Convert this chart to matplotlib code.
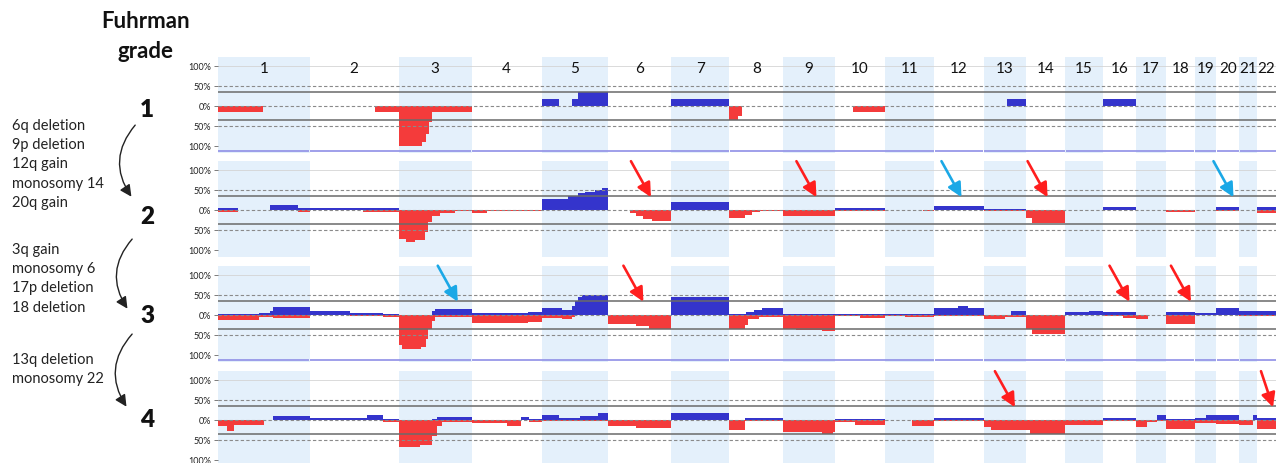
import matplotlib
matplotlib.use('Agg')
import matplotlib.pyplot as plt
from matplotlib.patches import FancyArrowPatch

plt.rcParams['font.family'] = ['Lato', 'DejaVu Sans']

# chromosome lengths (Mb, GRCh37)
CHROMS = list(range(1, 23))
CHROM_LEN = [249.3, 243.2, 198.0, 191.2, 180.9, 171.1, 159.1, 146.4, 141.2, 135.5, 135.0,
             133.9, 115.2, 107.3, 102.5, 90.4, 81.2, 78.1, 59.1, 63.0, 48.1, 51.3]

GRADES = ['1', '2', '3', '4']

# segments: (chromosome, start fraction, end fraction, % of samples)
GAIN_G1 = [(5, 0.0, 0.26, 17), (5, 0.46, 0.55, 17), (5, 0.55, 1.0, 33), (7, 0.0, 1.0, 17),
           (13, 0.56, 1.0, 17), (16, 0.0, 1.0, 17)]
LOSS_G1 = [(1, 0.0, 0.49, 15), (2, 0.73, 1.0, 17), (3, 0.0, 0.32, 100), (3, 0.32, 0.38, 90),
           (3, 0.38, 0.42, 70), (3, 0.42, 0.45, 40), (3, 0.45, 1.0, 15), (8, 0.0, 0.16, 37),
           (8, 0.16, 0.24, 25), (10, 0.35, 1.0, 15)]

GAIN_G2 = [(1, 0.0, 0.22, 4), (1, 0.57, 0.87, 12), (1, 0.87, 1.0, 5), (2, 0.0, 0.6, 5),
           (2, 0.6, 1.0, 6), (5, 0.0, 0.4, 28), (5, 0.4, 0.54, 34), (5, 0.54, 0.65, 42),
           (5, 0.65, 0.8, 46), (5, 0.8, 0.9, 50), (5, 0.9, 1.0, 54), (7, 0.0, 0.52, 19),
           (7, 0.52, 1.0, 21), (10, 0.0, 1.0, 4), (12, 0.0, 1.0, 11), (13, 0.0, 1.0, 3),
           (16, 0.0, 1.0, 7), (20, 0.0, 1.0, 7), (22, 0.0, 1.0, 7)]
LOSS_G2 = [(1, 0.0, 0.22, 4), (1, 0.87, 1.0, 4), (2, 0.6, 1.0, 4), (3, 0.0, 0.1, 72),
           (3, 0.1, 0.22, 80), (3, 0.22, 0.36, 76), (3, 0.36, 0.4, 55), (3, 0.4, 0.45, 30),
           (3, 0.45, 0.56, 15), (3, 0.56, 0.77, 8), (3, 0.77, 1.0, 3), (4, 0.0, 0.22, 8),
           (4, 0.22, 1.0, 2), (6, 0.34, 0.45, 8), (6, 0.45, 0.55, 15), (6, 0.55, 0.7, 22),
           (6, 0.7, 1.0, 28), (8, 0.0, 0.29, 21), (8, 0.29, 0.42, 12), (8, 0.42, 0.56, 5),
           (8, 0.56, 1.0, 2), (9, 0.0, 1.0, 16), (10, 0.0, 1.0, 3), (11, 0.77, 1.0, 3),
           (13, 0.0, 1.0, 3), (14, 0.0, 0.15, 20), (14, 0.15, 1.0, 33), (18, 0.0, 1.0, 4),
           (20, 0.0, 1.0, 2), (22, 0.0, 1.0, 8)]

GAIN_G3 = [(1, 0.0, 0.45, 2), (1, 0.45, 0.57, 4), (1, 0.57, 0.6, 10), (1, 0.6, 1.0, 19),
           (2, 0.0, 0.45, 8), (2, 0.45, 0.82, 4), (2, 0.82, 1.0, 2), (3, 0.45, 0.5, 10),
           (3, 0.5, 1.0, 15), (4, 0.0, 0.8, 3), (4, 0.8, 1.0, 7), (5, 0.0, 0.3, 17),
           (5, 0.3, 0.45, 12), (5, 0.45, 0.5, 22), (5, 0.5, 0.55, 35), (5, 0.55, 0.6, 44),
           (5, 0.6, 1.0, 50), (7, 0.0, 1.0, 43), (8, 0.0, 0.3, 2), (8, 0.3, 0.45, 6),
           (8, 0.45, 0.6, 12), (8, 0.6, 1.0, 16), (9, 0.0, 1.0, 2), (10, 0.0, 1.0, 2),
           (11, 0.0, 1.0, 2), (12, 0.0, 0.48, 17), (12, 0.48, 0.68, 21), (12, 0.68, 1.0, 17),
           (13, 0.65, 1.0, 10), (15, 0.0, 0.64, 7), (15, 0.64, 1.0, 9), (16, 0.0, 1.0, 7),
           (18, 0.0, 1.0, 7), (19, 0.0, 1.0, 5), (20, 0.0, 1.0, 17), (21, 0.0, 1.0, 8),
           (22, 0.0, 1.0, 9)]
LOSS_G3 = [(1, 0.0, 0.45, 14), (1, 0.45, 0.6, 5), (1, 0.6, 1.0, 8), (2, 0.45, 0.82, 3),
           (2, 0.82, 1.0, 5), (3, 0.0, 0.05, 75), (3, 0.05, 0.3, 87), (3, 0.3, 0.37, 80),
           (3, 0.37, 0.4, 62), (3, 0.4, 0.45, 35), (3, 0.45, 0.5, 15), (3, 0.5, 1.0, 5),
           (4, 0.0, 0.8, 22), (4, 0.8, 1.0, 18), (5, 0.0, 0.3, 8), (5, 0.3, 0.45, 11),
           (5, 0.45, 0.5, 5), (6, 0.0, 0.45, 23), (6, 0.45, 0.65, 29), (6, 0.65, 1.0, 36),
           (7, 0.0, 1.0, 2), (8, 0.0, 0.28, 37), (8, 0.28, 0.35, 25), (8, 0.35, 0.55, 10),
           (8, 0.55, 1.0, 5), (9, 0.0, 0.25, 36), (9, 0.25, 0.75, 39), (9, 0.75, 1.0, 41),
           (10, 0.0, 0.5, 3), (10, 0.5, 1.0, 9), (11, 0.0, 0.4, 3), (11, 0.4, 1.0, 7),
           (12, 0.0, 1.0, 3), (13, 0.0, 0.5, 11), (13, 0.5, 1.0, 5), (14, 0.0, 0.15, 35),
           (14, 0.15, 1.0, 48), (16, 0.0, 0.6, 3), (16, 0.6, 1.0, 9), (17, 0.0, 0.4, 12),
           (18, 0.0, 1.0, 23), (21, 0.0, 1.0, 3), (22, 0.0, 1.0, 4)]

GAIN_G4 = [(1, 0.6, 1.0, 10), (2, 0.0, 0.64, 4), (2, 0.64, 0.82, 12), (2, 0.82, 1.0, 3),
           (3, 0.45, 0.52, 3), (3, 0.52, 1.0, 7), (4, 0.7, 0.82, 8), (4, 0.82, 1.0, 3),
           (5, 0.0, 0.26, 13), (5, 0.26, 0.57, 5), (5, 0.57, 0.85, 11), (5, 0.85, 1.0, 18),
           (7, 0.0, 1.0, 18), (8, 0.28, 1.0, 6), (10, 0.0, 1.0, 2), (12, 0.0, 1.0, 6),
           (16, 0.0, 1.0, 6), (17, 0.7, 1.0, 12), (18, 0.0, 1.0, 3), (19, 0.0, 0.5, 6),
           (19, 0.5, 1.0, 12), (20, 0.0, 1.0, 12), (21, 0.75, 1.0, 12), (22, 0.0, 1.0, 6)]
LOSS_G4 = [(1, 0.0, 0.1, 16), (1, 0.1, 0.17, 27), (1, 0.17, 0.5, 13), (2, 0.82, 1.0, 5),
           (3, 0.0, 0.29, 67), (3, 0.29, 0.45, 63), (3, 0.45, 0.52, 40), (3, 0.52, 0.6, 15),
           (3, 0.6, 1.0, 6), (4, 0.0, 0.5, 8), (4, 0.5, 0.7, 15), (4, 0.82, 1.0, 6),
           (5, 0.0, 1.0, 2), (6, 0.0, 0.45, 14), (6, 0.45, 1.0, 20), (8, 0.0, 0.28, 25),
           (8, 0.28, 1.0, 2), (9, 0.0, 0.75, 30), (9, 0.75, 0.95, 36), (9, 0.95, 1.0, 30),
           (10, 0.0, 0.4, 4), (10, 0.4, 1.0, 12), (11, 0.55, 1.0, 15), (12, 0.0, 1.0, 2),
           (13, 0.0, 0.18, 17), (13, 0.18, 1.0, 25), (14, 0.0, 0.1, 25), (14, 0.1, 1.0, 35),
           (15, 0.0, 1.0, 13), (16, 0.0, 1.0, 2), (17, 0.0, 0.36, 17), (17, 0.36, 0.7, 5),
           (17, 0.7, 1.0, 3), (18, 0.0, 1.0, 22), (19, 0.0, 1.0, 8), (20, 0.0, 1.0, 10),
           (21, 0.0, 0.75, 12), (22, 0.0, 1.0, 22)]

GAINS = [GAIN_G1, GAIN_G2, GAIN_G3, GAIN_G4]
LOSSES = [LOSS_G1, LOSS_G2, LOSS_G3, LOSS_G4]

# highlighted changes: (panel index, chromosome, position fraction, kind)
HIGHLIGHTS = [(1, 6, 0.68, 'loss'), (1, 9, 0.64, 'loss'), (1, 12, 0.55, 'gain'),
              (1, 14, 0.55, 'loss'), (1, 20, 0.74, 'gain'),
              (2, 3, 0.81, 'gain'), (2, 6, 0.56, 'loss'), (2, 16, 0.80, 'loss'),
              (2, 18, 0.87, 'loss'),
              (3, 13, 0.74, 'loss'), (3, 22, 0.84, 'loss')]

TRANSITIONS = [['6q deletion', '9p deletion', '12q gain', 'monosomy 14', '20q gain'],
               ['3q gain', 'monosomy 6', '17p deletion', '18 deletion'],
               ['13q deletion', 'monosomy 22']]

TICK_VALS = [100, 50, 0, -50, -100]
TICK_LABELS = ['100%', '50%', '0%', '50%', '100%']

# ── layout (pixels) ─────────────────────────────────────────────────────
W, H = 1279, 464
X0, X1 = 218, 1276
ZERO_Y = [106.5, 211, 315.5, 421]
SCALE = 0.4          # px per %
YMIN, YMAX = -118, 122

BLUE = '#3434CC'
RED = '#F43B3B'
SHADE = '#E4F0FB'
ARROW_COL = {'loss': '#FF1E1E', 'gain': '#1BA8E6'}

starts = []
acc = 0.0
for L in CHROM_LEN:
    starts.append(acc)
    acc += L
GENOME = acc


def gx(ch, f):
    return starts[ch - 1] + f * CHROM_LEN[ch - 1]


fig = plt.figure(figsize=(W / 100, H / 100), dpi=100)

axes = []
for i, z in enumerate(ZERO_Y):
    top = z - YMAX * SCALE
    bottom = z - YMIN * SCALE
    ax = fig.add_axes([X0 / W, 1 - bottom / H, (X1 - X0) / W, (bottom - top) / H])
    ax.set_xlim(0, GENOME)
    ax.set_ylim(YMIN, YMAX)
    for sp in ax.spines.values():
        sp.set_visible(False)
    ax.set_xticks([])
    ax.set_yticks(TICK_VALS)
    ax.set_yticklabels(TICK_LABELS)
    ax.tick_params(axis='y', length=3, width=0.6, color='#666666', labelsize=6.5,
                   pad=2, labelcolor='#222222')
    ax.patch.set_alpha(0)

    for k, ch in enumerate(CHROMS):
        if ch % 2 == 1:
            ax.axvspan(starts[k], starts[k] + CHROM_LEN[k], color=SHADE, lw=0, zorder=0)

    for ch, f0, f1, v in GAINS[i]:
        ax.bar(gx(ch, f0), v, width=gx(ch, f1) - gx(ch, f0), align='edge',
               color=BLUE, lw=0, zorder=2)
    for ch, f0, f1, v in LOSSES[i]:
        ax.bar(gx(ch, f0), -v, width=gx(ch, f1) - gx(ch, f0), align='edge',
               color=RED, lw=0, zorder=2)

    ax.axhline(100, color='#d4d4d4', lw=0.6, zorder=1)
    for yv in (50, 0, -50):
        ax.axhline(yv, color='#8a8a8a', lw=0.8, ls=(0, (3, 2)), zorder=3)
    for yv in (35, -35):
        ax.axhline(yv, color='#6a6a6a', lw=1.1, zorder=3)
    if i in (0, 2):
        ax.hlines([-113] * 22, [s + 0.6 for s in starts],
                  [s + L - 0.6 for s, L in zip(starts, CHROM_LEN)],
                  color='#8f8fe6', lw=1.2, zorder=3)
    axes.append(ax)

# chromosome numbers
for k, ch in enumerate(CHROMS):
    axes[0].text(starts[k] + CHROM_LEN[k] / 2, 93, str(ch), ha='center', va='center',
                 fontsize=11, color='#111111', zorder=4)

# highlight arrows
for p, ch, f, kind in HIGHLIGHTS:
    dx = -12 if ch == 22 else -20
    axes[p].annotate('', xy=(gx(ch, f), 32), xytext=(dx, 36), textcoords='offset pixels',
                     arrowprops=dict(arrowstyle='-|>,head_length=0.6,head_width=0.3',
                                     color=ARROW_COL[kind], lw=1.9, shrinkA=0, shrinkB=0,
                                     mutation_scale=14),
                     annotation_clip=False, zorder=5)

# left-hand annotations
fig.text(146 / W, 1 - 22 / H, 'Fuhrman', ha='center', va='center', fontsize=16,
         fontweight='bold', color='#111111')
fig.text(146 / W, 1 - 51 / H, 'grade', ha='center', va='center', fontsize=16,
         fontweight='bold', color='#111111')
for g, yy in zip(GRADES, [110, 217, 316, 420]):
    fig.text(147 / W, 1 - yy / H, g, ha='center', va='center', fontsize=17.5,
             fontweight='heavy', color='#111111')

for block, y0 in zip(TRANSITIONS, [126, 250, 360]):
    for j, line in enumerate(block):
        fig.text(12 / W, 1 - (y0 + 19.2 * j) / H, line, ha='left', va='center',
                 fontsize=10.5, color='#222222')

for (xa, ya), (xb, yb) in [((137, 124), (133, 200)), ((134, 238), (129, 312)),
                           ((134, 333), (128, 410))]:
    arr = FancyArrowPatch((xa / W, 1 - ya / H), (xb / W, 1 - yb / H),
                          transform=fig.transFigure, connectionstyle='arc3,rad=0.4',
                          arrowstyle='-|>,head_length=0.5,head_width=0.25',
                          mutation_scale=14, lw=1.0, color='#222222')
    fig.patches.append(arr)

fig.savefig('out.png', dpi=100)
